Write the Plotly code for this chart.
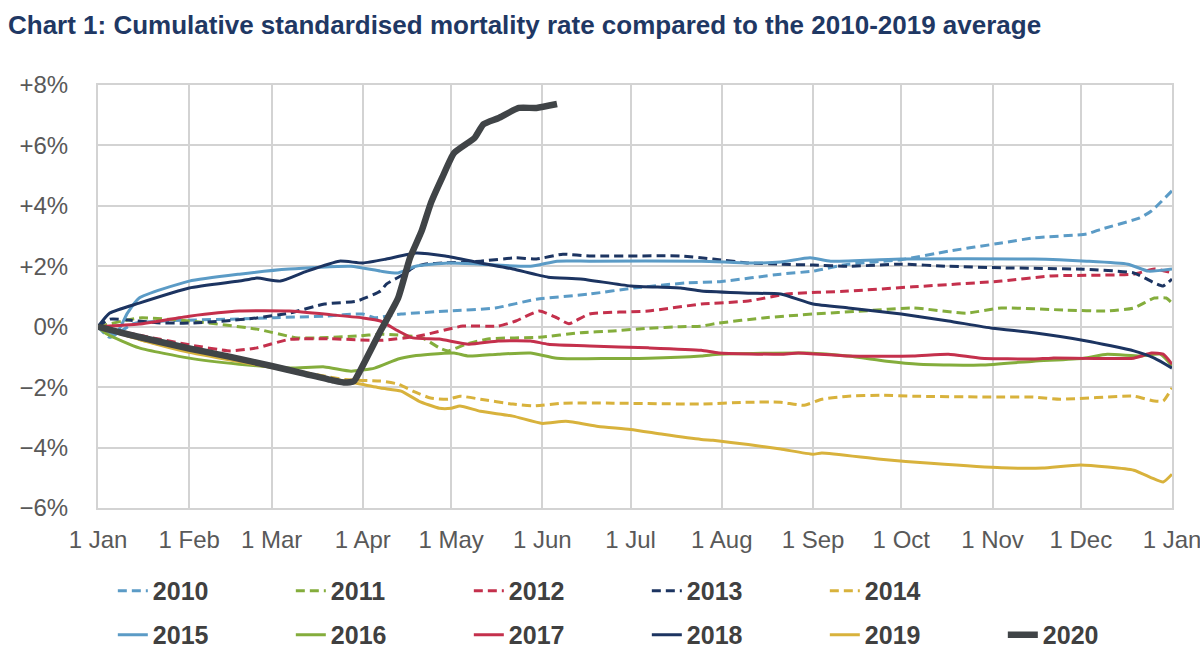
import plotly.graph_objects as go

month_days = [0, 31, 59, 90, 120, 151, 181, 212, 243, 273, 304, 334, 365]
month_labels = ["1 Jan", "1 Feb", "1 Mar", "1 Apr", "1 May", "1 Jun", "1 Jul",
                "1 Aug", "1 Sep", "1 Oct", "1 Nov", "1 Dec", "1 Jan"]
y_ticks = [-6, -4, -2, 0, 2, 4, 6, 8]
y_labels = ["−6%", "−4%", "−2%", "0%", "+2%", "+4%", "+6%", "+8%"]

days_2010 = [0, 4, 12, 25, 45, 60, 77, 90, 94, 103, 119, 135, 149, 167, 182, 200, 212, 232, 243, 255, 273, 289, 307, 318, 336, 341, 354, 358, 365]
vals_2010 = [0, -0.35, 0.1, 0.2, 0.25, 0.3, 0.35, 0.42, 0.3, 0.42, 0.52, 0.62, 0.91, 1.08, 1.28, 1.45, 1.5, 1.74, 1.84, 2.07, 2.22, 2.5, 2.77, 2.94, 3.07, 3.23, 3.6, 3.83, 4.5]

days_2011 = [0, 14, 31, 54, 68, 88, 96, 110, 116, 119, 125, 133, 150, 164, 175, 187, 198, 205, 211, 226, 243, 260, 277, 295, 307, 329, 343, 352, 359, 363, 365]
vals_2011 = [0, 0.29, 0.19, -0.08, -0.37, -0.31, -0.25, -0.36, -0.7, -0.8, -0.58, -0.4, -0.35, -0.2, -0.14, -0.05, 0.0, 0.02, 0.12, 0.29, 0.42, 0.52, 0.62, 0.45, 0.62, 0.55, 0.52, 0.62, 0.95, 0.95, 0.78]

days_2012 = [0, 15, 31, 45, 54, 65, 79, 96, 109, 124, 136, 142, 150, 156, 160, 167, 187, 205, 221, 234, 255, 277, 307, 324, 352, 359, 365]
vals_2012 = [0, -0.3, -0.6, -0.8, -0.7, -0.42, -0.4, -0.45, -0.31, 0.02, 0.02, 0.19, 0.52, 0.29, 0.1, 0.42, 0.52, 0.75, 0.85, 1.08, 1.18, 1.32, 1.51, 1.68, 1.74, 1.91, 1.78]

days_2013 = [0, 4, 20, 31, 43, 54, 65, 77, 88, 96, 98, 104, 107, 111, 118, 130, 142, 149, 158, 167, 198, 209, 221, 232, 243, 255, 273, 289, 307, 335, 352, 359, 362, 365]
vals_2013 = [0, 0.25, 0.13, 0.12, 0.19, 0.29, 0.45, 0.75, 0.85, 1.18, 1.41, 1.74, 1.95, 2.07, 2.11, 2.17, 2.28, 2.24, 2.4, 2.34, 2.34, 2.24, 2.11, 2.07, 2.04, 2.0, 2.07, 2.0, 1.95, 1.9, 1.78, 1.45, 1.35, 1.58]

days_2014 = [0, 15, 31, 59, 84, 96, 102, 107, 113, 119, 123, 130, 141, 148, 158, 175, 205, 220, 232, 240, 246, 255, 266, 277, 307, 318, 327, 352, 359, 362, 365]
vals_2014 = [0, -0.45, -0.8, -1.3, -1.75, -1.8, -1.9, -2.13, -2.36, -2.4, -2.3, -2.4, -2.56, -2.62, -2.53, -2.53, -2.56, -2.5, -2.5, -2.6, -2.4, -2.3, -2.27, -2.3, -2.33, -2.33, -2.4, -2.3, -2.46, -2.46, -2.03]

days_2015 = [0, 6, 10, 14, 31, 48, 65, 86, 96, 102, 108, 119, 130, 147, 156, 167, 205, 221, 232, 242, 249, 273, 318, 336, 350, 357, 365]
vals_2015 = [0, -0.25, 0.45, 0.95, 1.51, 1.74, 1.91, 2.0, 1.84, 1.78, 2.0, 2.11, 2.07, 2.0, 2.17, 2.17, 2.17, 2.11, 2.14, 2.28, 2.17, 2.24, 2.24, 2.17, 2.07, 1.84, 1.91]

days_2016 = [0, 3, 14, 31, 48, 65, 77, 86, 94, 102, 107, 113, 121, 126, 136, 147, 156, 187, 205, 211, 241, 255, 268, 279, 300, 318, 335, 343, 354, 361, 365]
vals_2016 = [0, -0.24, -0.7, -1.04, -1.24, -1.37, -1.33, -1.47, -1.37, -1.07, -0.97, -0.91, -0.87, -0.97, -0.91, -0.87, -1.04, -1.04, -0.97, -0.91, -0.87, -0.97, -1.14, -1.24, -1.27, -1.14, -1.04, -0.91, -0.97, -0.91, -1.3]

days_2017 = [0, 14, 31, 48, 65, 79, 90, 96, 102, 107, 116, 126, 136, 147, 153, 167, 187, 205, 211, 232, 238, 255, 277, 289, 300, 318, 324, 352, 358, 362, 365]
vals_2017 = [0, 0.09, 0.35, 0.52, 0.52, 0.4, 0.29, 0.19, -0.14, -0.37, -0.41, -0.58, -0.47, -0.47, -0.58, -0.64, -0.7, -0.78, -0.87, -0.91, -0.87, -0.97, -0.97, -0.91, -1.04, -1.07, -1.04, -1.04, -0.87, -0.91, -1.24]

days_2018 = [0, 4, 14, 31, 48, 54, 62, 71, 82, 90, 98, 108, 118, 130, 141, 153, 164, 181, 198, 205, 221, 232, 243, 255, 273, 289, 304, 318, 336, 352, 359, 365]
vals_2018 = [0, 0.45, 0.78, 1.28, 1.51, 1.61, 1.51, 1.84, 2.17, 2.11, 2.24, 2.44, 2.34, 2.11, 1.91, 1.64, 1.58, 1.35, 1.28, 1.18, 1.11, 1.08, 0.75, 0.62, 0.42, 0.19, -0.05, -0.2, -0.47, -0.8, -1.04, -1.37]

days_2019 = [0, 15, 31, 59, 84, 96, 103, 109, 116, 120, 123, 130, 141, 151, 159, 170, 181, 192, 205, 209, 221, 232, 243, 246, 266, 283, 307, 321, 334, 352, 358, 362, 365]
vals_2019 = [0, -0.45, -0.85, -1.35, -1.8, -2.03, -2.13, -2.46, -2.7, -2.7, -2.62, -2.8, -2.96, -3.2, -3.13, -3.3, -3.4, -3.56, -3.73, -3.76, -3.9, -4.05, -4.22, -4.18, -4.39, -4.52, -4.67, -4.68, -4.58, -4.75, -5.0, -5.14, -4.88]

days_2020 = [0, 10, 31, 45, 59, 70, 80, 84, 87, 89, 96, 102, 106, 110, 113, 117, 121, 128, 131, 136, 143, 149, 156]
vals_2020 = [0, -0.25, -0.72, -1.0, -1.3, -1.55, -1.78, -1.85, -1.8, -1.47, -0.14, 0.95, 2.27, 3.17, 4.06, 4.94, 5.75, 6.25, 6.7, 6.9, 7.24, 7.24, 7.37]

C_LBLUE = "#5b9bc6"
C_GREEN = "#84ad3c"
C_RED = "#c4304c"
C_NAVY = "#1c3461"
C_GOLD = "#d8b23c"
C_GREY = "#404447"
C_GRID = "#d3d3d3"

series = [
    ("2010", days_2010, vals_2010, C_LBLUE, "9px,5px", 3, "legend"),
    ("2011", days_2011, vals_2011, C_GREEN, "9px,5px", 3, "legend"),
    ("2012", days_2012, vals_2012, C_RED, "9px,5px", 3, "legend"),
    ("2013", days_2013, vals_2013, C_NAVY, "9px,5px", 3, "legend"),
    ("2014", days_2014, vals_2014, C_GOLD, "9px,5px", 3, "legend"),
    ("2015", days_2015, vals_2015, C_LBLUE, "solid", 3, "legend2"),
    ("2016", days_2016, vals_2016, C_GREEN, "solid", 3, "legend2"),
    ("2017", days_2017, vals_2017, C_RED, "solid", 3, "legend2"),
    ("2018", days_2018, vals_2018, C_NAVY, "solid", 3, "legend2"),
    ("2019", days_2019, vals_2019, C_GOLD, "solid", 3, "legend2"),
    ("2020", days_2020, vals_2020, C_GREY, "solid", 6.5, "legend2"),
]

fig = go.Figure()
for name, d, v, col, dash, w, leg in series:
    fig.add_trace(go.Scatter(x=d, y=v, mode="lines", name=name,
                             line=dict(color=col, width=w, dash=dash,
                                       shape="spline", smoothing=0.5),
                             legend=leg))

FAM = "Liberation Sans, Arial, sans-serif"
tick_font = dict(family=FAM, size=24, color="#595959")
legend_font = dict(family=FAM, size=25, color="#404040", weight="bold")

axis_common = dict(showgrid=True, gridcolor=C_GRID, gridwidth=2,
                   zeroline=False, showline=True, linecolor=C_GRID, linewidth=2,
                   mirror=True, tickfont=tick_font, ticks="", fixedrange=True,
                   automargin=False)

fig.update_layout(
    width=1200, height=667,
    margin=dict(l=98, r=28, t=85, b=159, autoexpand=False),
    paper_bgcolor="white", plot_bgcolor="white",
    title=dict(text="Chart 1: Cumulative standardised mortality rate compared to the 2010-2019 average",
               x=8 / 1200, xref="container", xanchor="left",
               y=1 - 25 / 667, yref="container", yanchor="middle",
               font=dict(family=FAM, size=26, color="#1f3864", weight="bold")),
    xaxis=dict(range=[0, 365], tickvals=month_days, ticktext=month_labels,
               ticklabelstandoff=9, ticklabeloverflow="allow", **axis_common),
    yaxis=dict(range=[-6, 8], tickvals=y_ticks, ticktext=y_labels,
               ticklabelstandoff=23, **axis_common),
    legend=dict(orientation="h", x=0.0138, y=-0.196, xanchor="left", yanchor="middle",
                font=legend_font, entrywidth=133, entrywidthmode="pixels",
                bgcolor="rgba(0,0,0,0)", traceorder="normal"),
    legend2=dict(orientation="h", x=0.0138, y=-0.30, xanchor="left", yanchor="middle",
                 font=legend_font, entrywidth=133, entrywidthmode="pixels",
                 bgcolor="rgba(0,0,0,0)", traceorder="normal"),
    showlegend=True,
)

fig.write_html("out.html")
